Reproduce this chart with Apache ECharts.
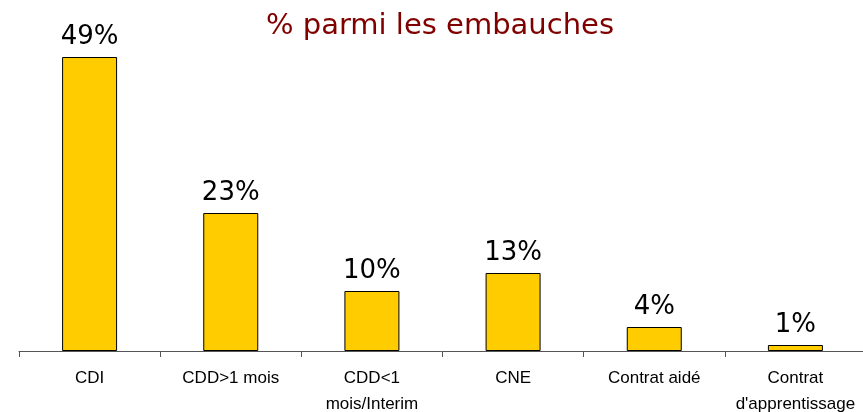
<!DOCTYPE html>
<html>
<head>
<meta charset="utf-8">
<script src="https://cdn.jsdelivr.net/npm/echarts@6/dist/echarts.min.js"></script>
<style>
  html, body { margin: 0; padding: 0; background: #fff; }
  #chart { width: 863px; height: 412px; }
</style>
</head>
<body>
<div id="chart"></div>
<script>
var categories = ['CDI', 'CDD>1 mois', 'CDD<1\nmois/Interim', 'CNE', 'Contrat aidé', 'Contrat\nd\'apprentissage'];
var shares = [49, 23, 10, 13, 4, 1];

var chart = echarts.init(document.getElementById('chart'));

var option = {
    animation: false,
    title: {
        text: '% parmi les embauches',
        left: 435,
        textAlign: 'center',
        top: 7,
        textStyle: {
            fontFamily: 'DejaVu Sans',
            fontSize: 29,
            fontWeight: 'normal',
            color: '#800000'
        }
    },
    grid: {
        left: 19,
        right: -3,
        top: 51,
        bottom: 61,
        outerBoundsMode: 'none'
    },
    xAxis: {
        type: 'category',
        data: categories,
        axisLine: { lineStyle: { color: '#555', width: 1 } },
        axisTick: { show: true, length: 6, lineStyle: { color: '#555' } },
        axisLabel: {
            interval: 0,
            margin: 14,
            fontFamily: 'Liberation Sans',
            fontSize: 17,
            lineHeight: 26,
            color: '#000'
        }
    },
    yAxis: {
        type: 'value',
        min: 0,
        max: 50,
        show: false,
        splitLine: { show: false }
    },
    series: [{
        type: 'bar',
        data: shares,
        barWidth: 55,
        itemStyle: {
            color: '#FFCC00',
            borderColor: '#000',
            borderWidth: 1
        },
        label: {
            show: true,
            position: 'top',
            distance: 7,
            formatter: '{c}%',
            fontFamily: 'DejaVu Sans',
            fontSize: 26,
            color: '#000'
        }
    }]
};

chart.setOption(option);
</script>
</body>
</html>
